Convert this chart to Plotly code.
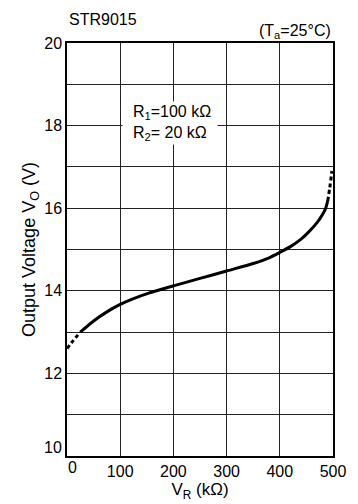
import plotly.graph_objects as go

# Data
vr_dash_lo = [0, 12, 25]
vo_dash_lo = [12.6, 12.8, 13.0]
vr_solid = [25, 50, 75, 100, 125, 155, 200, 250, 300, 350, 380, 400, 420, 440, 454, 470, 480, 486, 490]
vo_solid = [13.0, 13.27, 13.49, 13.67, 13.81, 13.95, 14.12, 14.3, 14.48, 14.66, 14.8, 14.93, 15.07, 15.25, 15.42, 15.65, 15.84, 15.99, 16.17]
vr_dash_hi = [490, 494, 498]
vo_dash_hi = [16.17, 16.5, 16.9]

x_ticks = [0, 100, 200, 300, 400, 500]
x_ticklabels = ["", "100", "200", "300", "400", "500"]
y_ticks = [10, 11, 12, 13, 14, 15, 16, 17, 18, 19, 20]
y_ticklabels = ["", "", "12", "", "14", "", "16", "", "18", "", "20"]

FONT = "Liberation Sans, Arial, sans-serif"
TS = 16
fig = go.Figure()
line_solid = dict(color="black", width=3, shape="spline", smoothing=0.6)
line_dash = dict(color="black", width=3, dash="4px,3px", shape="spline", smoothing=0.6)
fig.add_trace(go.Scatter(x=vr_dash_lo, y=vo_dash_lo, mode="lines", line=line_dash, showlegend=False))
fig.add_trace(go.Scatter(x=vr_solid, y=vo_solid, mode="lines", line=line_solid, showlegend=False))
fig.add_trace(go.Scatter(x=vr_dash_hi, y=vo_dash_hi, mode="lines", line=line_dash, showlegend=False))

axis_common = dict(
    showline=True, linecolor="black", linewidth=1.5, mirror=True,
    showgrid=True, gridcolor="#222", gridwidth=1,
    zeroline=False, ticks="", tickfont=dict(family=FONT, size=TS, color="black"),
)
fig.update_xaxes(range=[0, 500], tickvals=x_ticks, ticktext=x_ticklabels,
                 title=dict(text="V<sub>R</sub> (kΩ)", font=dict(family=FONT, size=17, color="black"), standoff=0),
                 **axis_common)
fig.update_yaxes(range=[10, 20], tickvals=y_ticks, ticktext=y_ticklabels,
                 title=dict(text="Output Voltage V<sub>O</sub> (V)", font=dict(family=FONT, size=18, color="black"), standoff=4),
                 **axis_common)

annos = [
    dict(x=0, y=10, xref="x", yref="y", text="10", showarrow=False, xanchor="right", yanchor="middle",
         xshift=-3, yshift=9, font=dict(family=FONT, size=TS, color="black")),
    dict(x=0, y=10, xref="x", yref="y", text="0", showarrow=False, xanchor="center", yanchor="top",
         xshift=5, yshift=-1, font=dict(family=FONT, size=TS, color="black")),
    dict(x=0, y=1, xref="paper", yref="paper", text="STR9015", showarrow=False, xanchor="left", yanchor="bottom",
         yshift=13, font=dict(family=FONT, size=16, color="black")),
    dict(x=1, y=1, xref="paper", yref="paper", text="(T<sub>a</sub>=25°C)", showarrow=False, xanchor="right",
         yanchor="bottom", yshift=0, font=dict(family=FONT, size=16, color="black")),
    dict(x=103, y=18.07, xref="x", yref="y", text="  R<sub>1</sub>=100 kΩ <br>  R<sub>2</sub>= 20 kΩ ", showarrow=False,
         xanchor="left", yanchor="middle", align="left", bgcolor="white", borderpad=1,
         font=dict(family=FONT, size=16, color="black")),
]
fig.update_layout(
    width=358, height=504, margin=dict(l=67, r=24, t=43, b=38),
    plot_bgcolor="white", paper_bgcolor="white", annotations=annos,
    font=dict(family=FONT, color="black"),
)
fig.write_html("out.html")
